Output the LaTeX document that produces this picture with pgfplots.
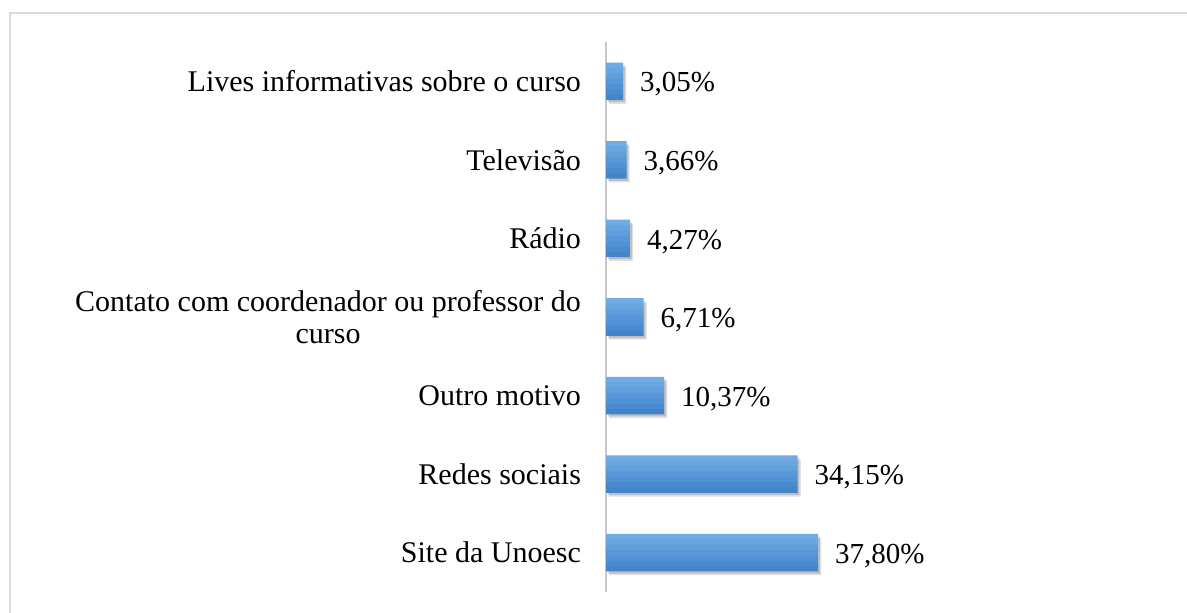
\documentclass[border=0pt]{standalone}
\usepackage{pgfplots}
\usepackage{pgfplotstable}
\pgfplotsset{compat=1.18}
\usepackage{fontspec}
\setmainfont{Liberation Serif}
\definecolor{barA}{RGB}{112,171,229}
\definecolor{barB}{RGB}{104,165,225}
\definecolor{barC}{RGB}{97,158,220}
\definecolor{barD}{RGB}{89,152,216}
\definecolor{barE}{RGB}{81,146,212}
\definecolor{barF}{RGB}{74,139,207}
\definecolor{barG}{RGB}{66,133,203}
\definecolor{framegray}{RGB}{217,217,217}
\definecolor{axisgray}{RGB}{200,200,200}
\pgfplotstableread{
val pos
37.80 0
34.15 1
10.37 2
6.71 3
4.27 4
3.66 5
3.05 6
}\datatable
\begin{document}
\begin{tikzpicture}
\useasboundingbox (0,0) rectangle (593.5pt,306pt);
\draw[framegray, line width=1.2pt] (4.85pt,-5pt) -- (4.85pt,299.6pt) -- (600pt,299.6pt);
\begin{axis}[
  at={(303pt,10pt)}, anchor=south west,
  scale only axis, width=280.5pt, height=275pt,
  xmin=0, xmax=100, ymin=-0.5, ymax=6.5,
  xbar, bar width=2.9pt,
  axis x line=none,
  axis y line*=left,
  y axis line style={draw=axisgray, line width=0.8pt},
  ytick={0,...,6},
  yticklabels={Site da Unoesc, Redes sociais, Outro motivo, {Contato com coordenador ou professor do\\curso}, Rádio, Televisão, Lives informativas sobre o curso},
  major tick length=0pt,
  yticklabel style={font=\fontsize{15}{16}\selectfont, align=center, xshift=-9pt},
  point meta=x,
  nodes near coords={\pgfmathprintnumber[fixed, fixed zerofill, precision=2, use comma, assume math mode=true]{\pgfplotspointmeta}\%},
  nodes near coords align=horizontal,
  every node near coord/.append style={font=\fontsize{14.5}{16}\selectfont, anchor=west, xshift=5pt, yshift=-1.6pt, text=black},
]
\addplot[draw=none, fill=black, fill opacity=0.12, bar width=18.5pt, bar shift=0pt, xshift=1.6pt, yshift=-2pt, nodes near coords={}]
  table[x=val, y=pos] {\datatable};
\addplot[draw=none, fill=black, fill opacity=0.15, bar width=18.5pt, bar shift=0pt, xshift=0.9pt, yshift=-1.2pt, nodes near coords={}]
  table[x=val, y=pos] {\datatable};
\addplot[draw=none, fill=barA, bar shift=7.93pt, nodes near coords={}] table[x=val, y=pos] {\datatable};
\addplot[draw=none, fill=barB, bar shift=5.286pt, nodes near coords={}] table[x=val, y=pos] {\datatable};
\addplot[draw=none, fill=barC, bar shift=2.643pt, nodes near coords={}] table[x=val, y=pos] {\datatable};
\addplot[draw=none, fill=barG, bar shift=-7.93pt, nodes near coords={}] table[x=val, y=pos] {\datatable};
\addplot[draw=none, fill=barF, bar shift=-5.286pt, nodes near coords={}] table[x=val, y=pos] {\datatable};
\addplot[draw=none, fill=barE, bar shift=-2.643pt, nodes near coords={}] table[x=val, y=pos] {\datatable};
\addplot[draw=none, fill=barD, bar shift=0pt] table[x=val, y=pos] {\datatable};
\end{axis}
\end{tikzpicture}
\end{document}
